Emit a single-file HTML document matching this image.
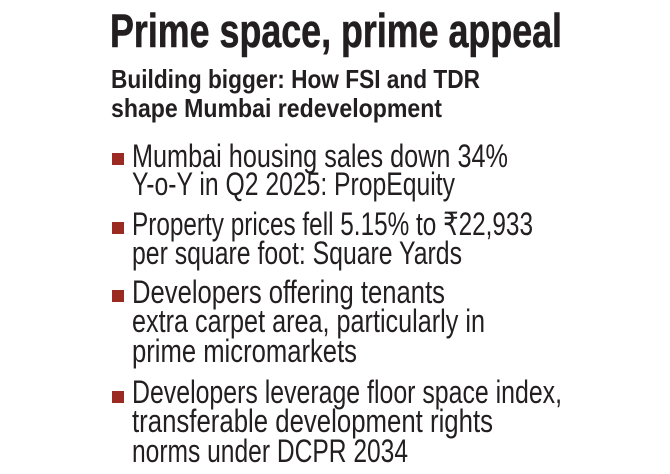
<!DOCTYPE html>
<html><head><meta charset="utf-8"><style>
html,body{margin:0;padding:0;background:#fff;width:670px;height:474px;overflow:hidden}
svg{display:block}
text{font-family:"Liberation Sans Narrow","Liberation Sans",sans-serif;fill:#231f20}
.t{font-weight:bold;font-size:47px}
.s{font-weight:bold;font-size:26px}
.b{font-size:32px}
</style></head><body>
<svg width="670" height="474" viewBox="0 0 670 474">
<text class="t" x="110" y="47" textLength="452" lengthAdjust="spacingAndGlyphs" stroke="#231f20" stroke-width="0.6">Prime space, prime appeal</text>
<text class="s" x="111" y="88" textLength="369" lengthAdjust="spacingAndGlyphs">Building bigger: How FSI and TDR</text>
<text class="s" x="111" y="117" textLength="331" lengthAdjust="spacingAndGlyphs">shape Mumbai redevelopment</text>
<g fill="#9b2a22">
<rect x="112" y="153" width="12" height="12"/>
<rect x="112" y="222" width="12" height="12"/>
<rect x="112" y="290" width="12" height="12"/>
<rect x="112" y="391" width="12" height="12"/>
</g>
<g class="b">
<text class="b" x="132" y="167" textLength="376" lengthAdjust="spacingAndGlyphs">Mumbai housing sales down 34%</text>
<text class="b" x="132" y="195" textLength="323" lengthAdjust="spacingAndGlyphs">Y-o-Y in Q2 2025: PropEquity</text>
<text class="b" x="132" y="235" textLength="401" lengthAdjust="spacingAndGlyphs">Property prices fell 5.15% to ₹22,933</text>
<text class="b" x="132" y="264" textLength="330" lengthAdjust="spacingAndGlyphs">per square foot: Square Yards</text>
<text class="b" x="132" y="303" textLength="313" lengthAdjust="spacingAndGlyphs">Developers offering tenants</text>
<text class="b" x="132" y="332" textLength="353" lengthAdjust="spacingAndGlyphs">extra carpet area, particularly in</text>
<text class="b" x="132" y="362" textLength="225" lengthAdjust="spacingAndGlyphs">prime micromarkets</text>
<text class="b" x="132" y="403" textLength="430" lengthAdjust="spacingAndGlyphs">Developers leverage floor space index,</text>
<text class="b" x="132" y="432" textLength="361" lengthAdjust="spacingAndGlyphs">transferable development rights</text>
<text class="b" x="132" y="462" textLength="276" lengthAdjust="spacingAndGlyphs">norms under DCPR 2034</text>
</g>
</svg>
</body></html>
